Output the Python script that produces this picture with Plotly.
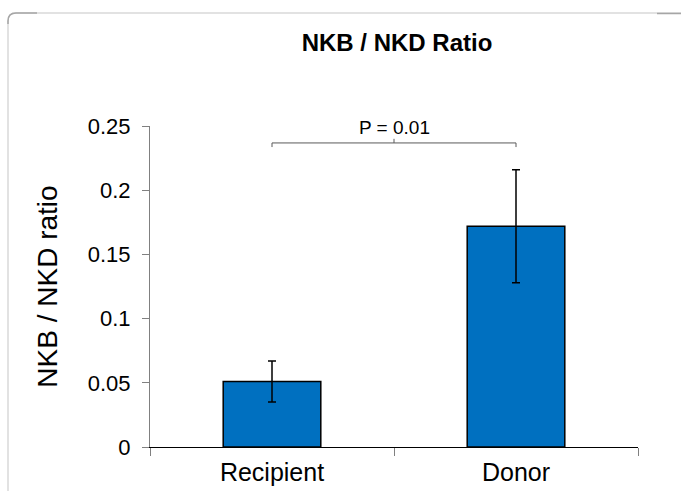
import plotly.graph_objects as go

categories = ["Recipient", "Donor"]
ratio_values = [0.051, 0.172]
ratio_errors = [0.016, 0.044]
y_tick_values = [0, 0.05, 0.1, 0.15, 0.2, 0.25]
y_tick_labels = ["0", "0.05", "0.1", "0.15", "0.2", "0.25"]
p_label = "P = 0.01"
chart_title = "NKB / NKD Ratio"
y_title = "NKB / NKD ratio"

W, H = 681, 491
L, R, T, B = 150, 43, 126, 44
PW, PH = W - L - R, H - T - B


def px(x):
    return (x - L) / PW


def py(y):
    return (H - B - y) / PH


fig = go.Figure()
fig.add_trace(go.Bar(
    x=categories, y=ratio_values, width=0.4,
    marker=dict(color="#0070C0", line=dict(color="black", width=1.5)),
    error_y=dict(type="data", array=ratio_errors, visible=True,
                 color="black", thickness=1.5, width=4),
    showlegend=False,
))

shapes = []
# outer frame (partially visible)
shapes.append(dict(type="path", xref="paper", yref="paper",
                   path=f"M {px(8)},{py(495)} L {px(8)},{py(21)} Q {px(8)},{py(13)} {px(16)},{py(13)} L {px(685)},{py(13)}",
                   line=dict(color="#d9d9d9", width=1.5)))
shapes.append(dict(type="path", xref="paper", yref="paper",
                   path=f"M {px(8)},{py(24)} L {px(8)},{py(21)} Q {px(8)},{py(13)} {px(16)},{py(13)} L {px(37)},{py(13)}",
                   line=dict(color="#a6a6a6", width=1.5)))
shapes.append(dict(type="line", xref="paper", yref="paper",
                   x0=px(657), x1=px(685), y0=py(13.5), y1=py(13.5),
                   line=dict(color="#a6a6a6", width=1.5)))
# significance bracket
shapes.append(dict(type="path", xref="x", yref="y",
                   path="M -0.0,0.2336 L -0.0,0.2368 L 1.0,0.2368 L 1.0,0.2336",
                   line=dict(color="#595959", width=1)))
shapes.append(dict(type="line", xref="x", yref="y",
                   x0=0.5, x1=0.5, y0=0.2368, y1=0.2400,
                   line=dict(color="#595959", width=1)))

fig.update_layout(
    width=W, height=H,
    margin=dict(l=L, r=R, t=T, b=B),
    paper_bgcolor="white", plot_bgcolor="white",
    font=dict(family="Liberation Sans, Arial, sans-serif", color="black"),
    title=dict(text=f"<b>{chart_title}</b>", x=px(397), xref="paper", xanchor="center",
               y=1 - 43 / H, yref="container", yanchor="middle",
               font=dict(size=24, color="black")),
    shapes=shapes,
    bargap=0.6,
)
fig.add_annotation(x=0.5, y=0.2400, xref="x", yref="y", text=p_label,
                   showarrow=False, yanchor="bottom", yshift=-1,
                   font=dict(size=19, family="Liberation Sans, Arial", color="black"))

fig.update_xaxes(
    range=[-0.5, 1.5], showline=True, linecolor="black", linewidth=1,
    ticks="outside", tickson="boundaries", ticklen=8, tickcolor="#808080",
    ticklabelstandoff=3, automargin=False,
    tickfont=dict(size=25, color="black"), showgrid=False, zeroline=False,
)
fig.update_yaxes(
    range=[0, 0.25], tickvals=y_tick_values, ticktext=y_tick_labels,
    showline=True, linecolor="#808080", linewidth=1,
    ticks="outside", ticklen=7, tickcolor="#808080",
    ticklabelstandoff=7, automargin=False,
    tickfont=dict(size=22, color="black"), showgrid=False, zeroline=False,
    title=dict(text=y_title, font=dict(size=28, color="black"), standoff=21),
)

fig.write_html("out.html", config={"displayModeBar": False},
               post_script="document.body.style.margin='0px';")
